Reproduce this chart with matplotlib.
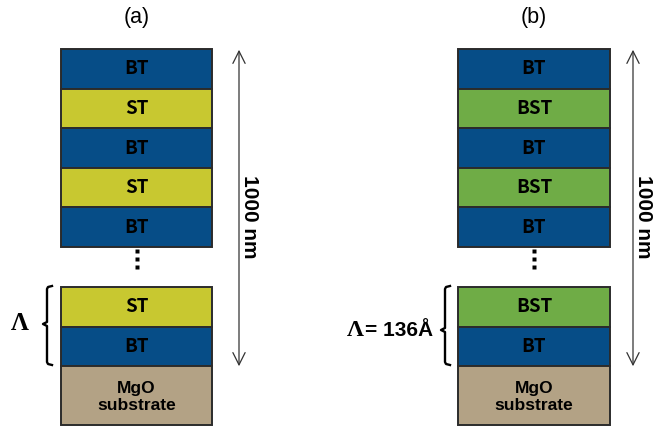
import matplotlib
matplotlib.use("Agg")
import matplotlib.pyplot as plt
from matplotlib.patches import Rectangle

# layer stacks, top to bottom (the part above the dots, then the part below)
stack_a_top = ["BT", "ST", "BT", "ST", "BT"]
stack_a_bottom = ["ST", "BT"]
stack_b_top = ["BT", "BST", "BT", "BST", "BT"]
stack_b_bottom = ["BST", "BT"]
substrate_label = "MgO\nsubstrate"
panel_titles = ["(a)", "(b)"]
thickness_label = "1000 nm"
period_labels = ["Λ", "Λ= 136Å"]

colors = {"BT": "#064d87", "ST": "#c8c830", "BST": "#6fac46", "sub": "#b3a285"}
edge = "#2b2b2b"

W, H = 656, 426
fig = plt.figure(figsize=(W / 100, H / 100), dpi=100)
ax = fig.add_axes([0, 0, 1, 1])
ax.set_xlim(0, W)
ax.set_ylim(H, 0)
ax.axis("off")

layer_h = 39.6
lab_font = ["Noto Sans CJK KR", "DejaVu Sans"]


def layer(x0, x1, y0, name, color, h=layer_h):
    ax.add_patch(Rectangle((x0, y0), x1 - x0, h, facecolor=color,
                           edgecolor=edge, linewidth=1.4))
    if "\n" in name:
        ax.text((x0 + x1) / 2, y0 + h / 2 + 1, name, ha="center", va="center",
                fontsize=12.5, fontweight="bold", family="Liberation Sans",
                linespacing=1.15, color="black")
    else:
        ax.text((x0 + x1) / 2, y0 + h / 2, name, ha="center", va="center",
                fontsize=13.5, fontweight="bold", family=lab_font, color="black")


def brace(bx, y0, y1, ym):
    # left-opening curly bracket drawn as a polyline
    ax.plot([bx + 5, bx + 1, bx, bx, bx - 4, bx, bx, bx + 1, bx + 5],
            [y0, y0 + 1, y0 + 3, ym - 2, ym, ym + 2, y1 - 3, y1 - 1, y1],
            color="black", lw=1.7, solid_joinstyle="round")


def panel(x0, x1, top, bottom, title, arrow_x, bracket_x, plabel, plabel_x, serif_only):
    xc = (x0 + x1) / 2
    ax.text(xc, 18, title, ha="center", va="center", fontsize=15.5,
            family="Liberation Sans")
    y = 49
    for name in top:
        layer(x0, x1, y, name, colors[name])
        y += layer_h
    # vertical dots
    for yd in (251, 259, 267):
        ax.plot(xc, yd, marker="s", ms=2.8, color="black", mec="none")
    y = 287
    for name in bottom:
        layer(x0, x1, y, name, colors[name])
        y += layer_h
    layer(x0, x1, y, substrate_label, colors["sub"], h=425 - y)

    # total thickness arrow
    ax.annotate("", xy=(arrow_x, 47), xytext=(arrow_x, 369),
                arrowprops=dict(arrowstyle="<->", color="#333333", lw=0.9,
                                mutation_scale=22))
    ax.text(arrow_x + 10, 217, thickness_label, rotation=-90, ha="center",
            va="center", fontsize=15, fontweight="bold", family="Liberation Sans")

    # one period of the superlattice
    brace(bracket_x, 286, 365, 324 if serif_only else 330)
    if serif_only:
        ax.text(plabel_x, 324, plabel, ha="center", va="center", fontsize=18,
                fontweight="bold", family="Liberation Serif")
    else:
        ax.text(plabel_x - 1, 331, "Λ", ha="right", va="center", fontsize=17,
                fontweight="bold", family="Liberation Serif")
        ax.text(plabel_x, 331, "= 136Å", ha="left", va="center", fontsize=15,
                fontweight="bold", family="Liberation Sans")


panel(61, 212, stack_a_top, stack_a_bottom, panel_titles[0], 239, 47,
      period_labels[0], 20, True)
panel(458, 610, stack_b_top, stack_b_bottom, panel_titles[1], 633, 445,
      period_labels[1], 365, False)

fig.savefig("out.png", dpi=100)
